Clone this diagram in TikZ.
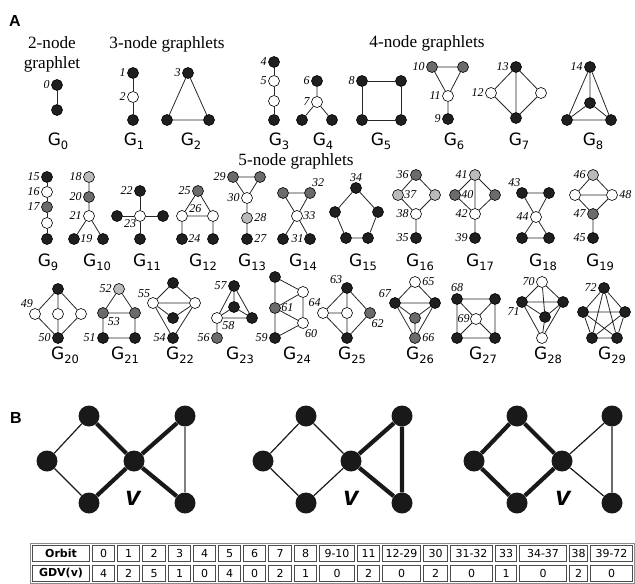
\documentclass[tikz,border=0pt]{standalone}
\usepackage{fontspec}
\setmainfont{Liberation Serif}
\newfontfamily\gfont{DejaVu Sans}
\newfontfamily\hfont{Liberation Sans}
\newcommand\GG[1]{G\raisebox{-4pt}{\fontsize{11.5}{11.5}\selectfont #1}}
\begin{document}
\begin{tikzpicture}[x=1pt,y=-1pt,
 nd/.style={circle,draw=black,line width=0.6pt,minimum size=11pt,inner sep=0pt},
 bk/.style={nd,fill=black!88},
 wt/.style={nd,fill=white},
 dg/.style={nd,fill=black!58},
 lg/.style={nd,fill=black!27},
 every label/.style={font=\fontsize{12}{12}\selectfont\itshape,inner sep=0.3pt},
 label distance=1pt,
 ed/.style={line width=0.8pt,draw=black!85},
 glab/.style={font=\gfont\fontsize{17}{17}\selectfont,anchor=base,inner sep=0pt,text height=12.5pt,text depth=3.5pt},
 ttl/.style={font=\fontsize{17.2}{17.2}\selectfont,anchor=base,inner sep=0pt,text height=11.5pt,text depth=3.5pt},
 part/.style={font=\hfont\bfseries\fontsize{16}{16}\selectfont,anchor=base,inner sep=0pt},
 vlab/.style={font=\hfont\bfseries\itshape\fontsize{27}{27}\selectfont,anchor=base,inner sep=0pt},
 big/.style={circle,fill=black!90,minimum size=21pt,inner sep=0pt},
 bthin/.style={line width=1.2pt,draw=black!90},
 bgray/.style={line width=1.2pt,draw=black!50},
 bthick/.style={line width=4.2pt,draw=black!90},
 cell/.style={draw=black!70,line width=0.7pt,minimum height=16.5pt,inner sep=0pt,font=\gfont\fontsize{11}{11}\selectfont}
]
\useasboundingbox (0,0) rectangle (635,584);

% ---------- titles ----------
\node[part] (A) at (15,26) {A};
\node[ttl] (t2a) at (52,48) {2-node};
\node[ttl] (t2b) at (52,68) {graphlet};
\node[ttl] (t3) at (167,48) {3-node graphlets};
\node[ttl] (t4) at (427,47) {4-node graphlets};
\node[ttl] (t5) at (296,165) {5-node graphlets};

% ---------- G0 ----------
\node[bk,label=left:0] (g0a) at (57,85) {};
\node[bk] (g0b) at (57,110) {};
\draw[ed] (g0a)--(g0b);
% ---------- G1 ----------
\node[bk,label=left:1] (g1a) at (133,73) {};
\node[wt,label=left:2] (g1b) at (133,97) {};
\node[bk] (g1c) at (133,120) {};
\draw[ed] (g1a)--(g1b)--(g1c);
% ---------- G2 ----------
\node[bk,label=left:3] (g2a) at (188,73) {};
\node[bk] (g2b) at (167,120) {};
\node[bk] (g2c) at (209,120) {};
\draw[ed] (g2a)--(g2b)--(g2c)--(g2a);
% ---------- G3 ----------
\node[bk,label=left:4] (g3a) at (274,62) {};
\node[wt,label=left:5] (g3b) at (274,81) {};
\node[wt] (g3c) at (274,101) {};
\node[bk] (g3d) at (274,120) {};
\draw[ed] (g3a)--(g3b)--(g3c)--(g3d);
% ---------- G4 ----------
\node[bk,label=left:6] (g4a) at (317,81) {};
\node[wt,label=left:7] (g4b) at (317,102) {};
\node[bk] (g4c) at (302,120) {};
\node[bk] (g4d) at (332,120) {};
\draw[ed] (g4a)--(g4b) (g4b)--(g4c) (g4b)--(g4d);
% ---------- G5 ----------
\node[bk,label=left:8] (g5a) at (362,81) {};
\node[bk] (g5b) at (401,81) {};
\node[bk] (g5c) at (401,120) {};
\node[bk] (g5d) at (362,120) {};
\draw[ed] (g5a)--(g5b)--(g5c)--(g5d)--(g5a);
% ---------- G6 ----------
\node[dg,label=left:10] (g6a) at (432,67) {};
\node[dg] (g6b) at (463,67) {};
\node[wt,label=left:11] (g6c) at (448,96) {};
\node[bk,label=left:9] (g6d) at (448,119) {};
\draw[ed] (g6a)--(g6b)--(g6c)--(g6a) (g6c)--(g6d);
% ---------- G7 ----------
\node[bk,label=left:13] (g7a) at (516,67) {};
\node[wt,label=left:12] (g7b) at (491,93) {};
\node[wt] (g7c) at (541,93) {};
\node[bk] (g7d) at (516,118) {};
\draw[ed] (g7a)--(g7b)--(g7d)--(g7c)--(g7a)--(g7d);
% ---------- G8 ----------
\node[bk,label=left:14] (g8a) at (590,67) {};
\node[bk] (g8b) at (590,103) {};
\node[bk] (g8c) at (567,120) {};
\node[bk] (g8d) at (611,120) {};
\draw[ed] (g8a)--(g8b) (g8a)--(g8c) (g8a)--(g8d) (g8b)--(g8c) (g8b)--(g8d) (g8c)--(g8d);

\node[glab] (G0) at (58,145) {\GG{0}};
\node[glab] (G1) at (134,145) {\GG{1}};
\node[glab] (G2) at (191,145) {\GG{2}};
\node[glab] (G3) at (279,145) {\GG{3}};
\node[glab] (G4) at (323,145) {\GG{4}};
\node[glab] (G5) at (381,145) {\GG{5}};
\node[glab] (G6) at (454,145) {\GG{6}};
\node[glab] (G7) at (519,145) {\GG{7}};
\node[glab] (G8) at (593,145) {\GG{8}};

% ---------- G9 ----------
\node[bk,label=left:15] (g9a) at (47,177) {};
\node[wt,label=left:16] (g9b) at (47,192) {};
\node[dg,label=left:17] (g9c) at (47,207) {};
\node[wt] (g9d) at (47,223) {};
\node[bk] (g9e) at (47,239) {};
\draw[ed] (g9a)--(g9b)--(g9c)--(g9d)--(g9e);
% ---------- G10 ----------
\node[lg,label=left:18] (g10a) at (89,177) {};
\node[dg,label=left:20] (g10b) at (89,197) {};
\node[wt,label=left:21] (g10c) at (89,216) {};
\node[bk,label={[label distance=0pt]right:19}] (g10d) at (74,239) {};
\node[bk] (g10e) at (103,239) {};
\draw[ed] (g10a)--(g10b)--(g10c)--(g10d) (g10c)--(g10e);
% ---------- G11 ----------
\node[bk,label=left:22] (g11a) at (140,191) {};
\node[bk] (g11b) at (117,216) {};
\node[wt,label={[label distance=-1pt]-135:23}] (g11c) at (140,216) {};
\node[bk] (g11d) at (163,216) {};
\node[bk] (g11e) at (140,239) {};
\draw[ed] (g11c)--(g11a) (g11c)--(g11b) (g11c)--(g11d) (g11c)--(g11e);
% ---------- G12 ----------
\node[dg,label=left:25] (g12a) at (198,191) {};
\node[wt,label={[label distance=1.5pt]20:26}] (g12b) at (182,216) {};
\node[wt] (g12c) at (213,216) {};
\node[bk,label={[label distance=0pt]right:24}] (g12d) at (182,239) {};
\node[bk] (g12e) at (213,239) {};
\draw[ed] (g12a)--(g12b)--(g12c)--(g12a) (g12b)--(g12d) (g12c)--(g12e);
% ---------- G13 ----------
\node[dg,label=left:29] (g13a) at (233,177) {};
\node[dg] (g13b) at (260,177) {};
\node[wt,label=left:30] (g13c) at (247,198) {};
\node[lg,label=right:28] (g13d) at (247,218) {};
\node[bk,label=right:27] (g13e) at (247,239) {};
\draw[ed] (g13a)--(g13b)--(g13c)--(g13a) (g13c)--(g13d)--(g13e);
% ---------- G14 ----------
\node[dg] (g14a) at (283,193) {};
\node[dg,label={[label distance=0pt]75:32}] (g14b) at (310,193) {};
\node[wt,label={[label distance=0pt]right:33}] (g14c) at (297,216) {};
\node[bk] (g14d) at (283,239) {};
\node[bk,label={[label distance=0pt]left:31}] (g14e) at (310,239) {};
\draw[ed] (g14a)--(g14b)--(g14c)--(g14a) (g14c)--(g14d) (g14c)--(g14e);
% ---------- G15 ----------
\node[bk,label={[label distance=0pt]above:34}] (g15a) at (356,188) {};
\node[bk] (g15b) at (378,212) {};
\node[bk] (g15c) at (368,238) {};
\node[bk] (g15d) at (346,238) {};
\node[bk] (g15e) at (335,212) {};
\draw[ed] (g15a)--(g15b)--(g15c)--(g15d)--(g15e)--(g15a);
% ---------- G16 ----------
\node[dg,label=left:36] (g16a) at (416,175) {};
\node[lg,label={[label distance=0pt]right:37}] (g16b) at (398,195) {};
\node[lg] (g16c) at (435,195) {};
\node[wt,label=left:38] (g16d) at (416,214) {};
\node[bk,label=left:35] (g16e) at (416,238) {};
\draw[ed] (g16a)--(g16b)--(g16d)--(g16c)--(g16a) (g16d)--(g16e);
% ---------- G17 ----------
\node[lg,label=left:41] (g17a) at (475,175) {};
\node[dg,label={[label distance=0pt]right:40}] (g17b) at (455,195) {};
\node[dg] (g17c) at (495,195) {};
\node[wt,label=left:42] (g17d) at (475,214) {};
\node[bk,label=left:39] (g17e) at (475,238) {};
\draw[ed] (g17a)--(g17b)--(g17d)--(g17c)--(g17a)--(g17d)--(g17e);
% ---------- G18 ----------
\node[bk,label={[label distance=0pt]100:43}] (g18a) at (522,193) {};
\node[bk] (g18b) at (549,193) {};
\node[wt,label=left:44] (g18c) at (536,217) {};
\node[bk] (g18d) at (522,238) {};
\node[bk] (g18e) at (549,238) {};
\draw[ed] (g18a)--(g18b)--(g18c)--(g18a) (g18c)--(g18d)--(g18e)--(g18c);
% ---------- G19 ----------
\node[lg,label=left:46] (g19a) at (593,175) {};
\node[wt] (g19b) at (575,195) {};
\node[wt,label=right:48] (g19c) at (612,195) {};
\node[dg,label=left:47] (g19d) at (593,214) {};
\node[bk,label=left:45] (g19e) at (593,238) {};
\draw[ed] (g19a)--(g19b)--(g19c)--(g19a) (g19b)--(g19d)--(g19c) (g19d)--(g19e);

\node[glab] (G9) at (48,266) {\GG{9}};
\node[glab] (G10) at (97,266) {\GG{10}};
\node[glab] (G11) at (147,266) {\GG{11}};
\node[glab] (G12) at (203,266) {\GG{12}};
\node[glab] (G13) at (252,266) {\GG{13}};
\node[glab] (G14) at (303,266) {\GG{14}};
\node[glab] (G15) at (363,266) {\GG{15}};
\node[glab] (G16) at (420,266) {\GG{16}};
\node[glab] (G17) at (480,266) {\GG{17}};
\node[glab] (G18) at (543,266) {\GG{18}};
\node[glab] (G19) at (600,266) {\GG{19}};

% ---------- G20 ----------
\node[bk] (g20a) at (58,289) {};
\node[wt,label={[label distance=0pt]105:49}] (g20b) at (35,314) {};
\node[wt] (g20c) at (58,314) {};
\node[wt] (g20d) at (81,314) {};
\node[bk,label=left:50] (g20e) at (58,338) {};
\draw[ed] (g20a)--(g20b)--(g20e)--(g20c)--(g20a)--(g20d)--(g20e);
% ---------- G21 ----------
\node[lg,label=left:52] (g21a) at (119,289) {};
\node[dg,label={[label distance=0pt]-40:53}] (g21b) at (103,313) {};
\node[dg] (g21c) at (135,313) {};
\node[bk,label=left:51] (g21d) at (103,338) {};
\node[bk] (g21e) at (135,338) {};
\draw[ed] (g21a)--(g21b)--(g21c)--(g21a) (g21b)--(g21d)--(g21e)--(g21c);
% ---------- G22 ----------
\node[bk] (g22a) at (173,283) {};
\node[wt,label={[label distance=0pt]115:55}] (g22b) at (153,303) {};
\node[wt] (g22c) at (195,303) {};
\node[bk] (g22d) at (173,318) {};
\node[bk,label=left:54] (g22e) at (173,338) {};
\draw[ed] (g22a)--(g22b)--(g22c)--(g22a) (g22b)--(g22d)--(g22c) (g22b)--(g22e)--(g22c);
% ---------- G23 ----------
\node[bk,label=left:57] (g23a) at (234,286) {};
\node[bk] (g23b) at (234,307) {};
\node[bk] (g23c) at (252,318) {};
\node[wt,label={[label distance=0pt]-35:58}] (g23d) at (217,318) {};
\node[dg,label=left:56] (g23e) at (217,338) {};
\draw[ed] (g23a)--(g23b)--(g23c)--(g23a)--(g23d)--(g23b) (g23d)--(g23c) (g23d)--(g23e);
% ---------- G24 ----------
\node[bk] (g24a) at (275,277) {};
\node[wt] (g24b) at (303,292) {};
\node[dg,label={[label distance=0pt]right:61}] (g24c) at (275,308) {};
\node[wt,label={[label distance=0pt]-75:60}] (g24d) at (303,323) {};
\node[bk,label=left:59] (g24e) at (275,338) {};
\draw[ed] (g24a)--(g24c)--(g24e)--(g24d)--(g24b)--(g24a) (g24b)--(g24c)--(g24d);
% ---------- G25 ----------
\node[bk,label={[label distance=0pt]140:63}] (g25a) at (347,288) {};
\node[wt,label={[label distance=0pt]110:64}] (g25b) at (323,313) {};
\node[wt] (g25c) at (347,313) {};
\node[dg,label={[label distance=0pt]-80:62}] (g25d) at (370,313) {};
\node[bk] (g25e) at (347,338) {};
\draw[ed] (g25a)--(g25b)--(g25c)--(g25a)--(g25d)--(g25e)--(g25b) (g25c)--(g25e);
% ---------- G26 ----------
\node[wt,label=right:65] (g26a) at (415,282) {};
\node[bk,label={[label distance=0pt]130:67}] (g26b) at (395,303) {};
\node[bk] (g26c) at (435,303) {};
\node[dg] (g26d) at (415,318) {};
\node[dg,label=right:66] (g26e) at (415,338) {};
\draw[ed] (g26a)--(g26b)--(g26c)--(g26a) (g26b)--(g26d)--(g26c) (g26b)--(g26e)--(g26c) (g26d)--(g26e);
% ---------- G27 ----------
\node[bk,label=above:68] (g27a) at (457,299) {};
\node[bk] (g27b) at (495,299) {};
\node[bk] (g27c) at (495,338) {};
\node[bk] (g27d) at (457,338) {};
\node[wt,label={[label distance=0pt]left:69}] (g27e) at (476,319) {};
\draw[ed] (g27a)--(g27b)--(g27c)--(g27d)--(g27a) (g27a)--(g27e)--(g27c) (g27b)--(g27e)--(g27d);
% ---------- G28 ----------
\node[wt,label=left:70] (g28a) at (542,282) {};
\node[bk,label={[label distance=0pt]-110:71}] (g28b) at (522,302) {};
\node[bk] (g28c) at (563,302) {};
\node[bk] (g28d) at (545,317) {};
\node[wt] (g28e) at (542,338) {};
\draw[ed] (g28a)--(g28b)--(g28c)--(g28a)--(g28d) (g28b)--(g28d)--(g28c) (g28b)--(g28e)--(g28c) (g28d)--(g28e);
% ---------- G29 ----------
\node[bk,label=left:72] (g29a) at (604,288) {};
\node[bk] (g29b) at (625,312) {};
\node[bk] (g29c) at (617,338) {};
\node[bk] (g29d) at (592,338) {};
\node[bk] (g29e) at (583,312) {};
\draw[ed] (g29a)--(g29b) (g29a)--(g29c) (g29a)--(g29d) (g29a)--(g29e) (g29b)--(g29c) (g29b)--(g29d) (g29b)--(g29e) (g29c)--(g29d) (g29c)--(g29e) (g29d)--(g29e);

\node[glab] (G20) at (65,359) {\GG{20}};
\node[glab] (G21) at (125,359) {\GG{21}};
\node[glab] (G22) at (180,359) {\GG{22}};
\node[glab] (G23) at (240,359) {\GG{23}};
\node[glab] (G24) at (297,359) {\GG{24}};
\node[glab] (G25) at (352,359) {\GG{25}};
\node[glab] (G26) at (420,359) {\GG{26}};
\node[glab] (G27) at (483,359) {\GG{27}};
\node[glab] (G28) at (548,359) {\GG{28}};
\node[glab] (G29) at (612,359) {\GG{29}};

% ---------- Part B ----------
\node[part] (B) at (16,423) {B};
% graph 1
\node[big] (p1l) at (47,461) {};
\node[big] (p1tl) at (89,416) {};
\node[big] (p1bl) at (89,503) {};
\node[big] (p1c) at (134,461) {};
\node[big] (p1tr) at (185,416) {};
\node[big] (p1br) at (185,503) {};
\draw[bthin] (p1l)--(p1tl) (p1l)--(p1bl);
\draw[bthick] (p1tl)--(p1c) (p1bl)--(p1c) (p1c)--(p1tr) (p1c)--(p1br);
\draw[bgray] (p1tr)--(p1br);
\node[vlab] (v1) at (133,505) {v};
% graph 2
\node[big] (p2l) at (263,461) {};
\node[big] (p2tl) at (306,416) {};
\node[big] (p2bl) at (306,503) {};
\node[big] (p2c) at (351,461) {};
\node[big] (p2tr) at (402,416) {};
\node[big] (p2br) at (402,503) {};
\draw[bthin] (p2l)--(p2tl) (p2l)--(p2bl) (p2tl)--(p2c) (p2bl)--(p2c);
\draw[bthick] (p2c)--(p2tr) (p2c)--(p2br) (p2tr)--(p2br);
\node[vlab] (v2) at (351,505) {v};
% graph 3
\node[big] (p3l) at (474,461) {};
\node[big] (p3tl) at (517,416) {};
\node[big] (p3bl) at (517,503) {};
\node[big] (p3c) at (562,461) {};
\node[big] (p3tr) at (612,416) {};
\node[big] (p3br) at (612,503) {};
\draw[bthick] (p3l)--(p3tl) (p3l)--(p3bl) (p3tl)--(p3c) (p3bl)--(p3c);
\draw[bthin] (p3c)--(p3tr) (p3c)--(p3br) (p3tr)--(p3br);
\node[vlab] (v3) at (563,505) {v};

% ---------- table ----------
\draw[black!45,line width=0.6pt] (30,543) rectangle (634.5,583.7);
\foreach \xa/\xb/\ta/\tb [count=\i] in {31/91/\textbf{Orbit}/\textbf{GDV(v)}, 91/116/0/4, 116/141/1/2, 141/167/2/5, 167/192/3/1, 192/217/4/0, 217/242/5/4, 242/267/6/0, 267/293/7/2, 293/318/8/1, 318/356/9-10/0, 356/381/11/2, 381/422/12-29/0, 422/449/30/2, 449/494/31-32/0, 494/518/33/1, 518/568/34-37/0, 568/589/38/2, 589/634/39-72/0}
{
 \node[cell,minimum width={(\xb-\xa-2.5)*1pt}] (ra\i) at ({(\xa+\xb)/2},553.5) {\ta};
 \node[cell,minimum width={(\xb-\xa-2.5)*1pt}] (rb\i) at ({(\xa+\xb)/2},573.2) {\tb};
}
\end{tikzpicture}
\end{document}
